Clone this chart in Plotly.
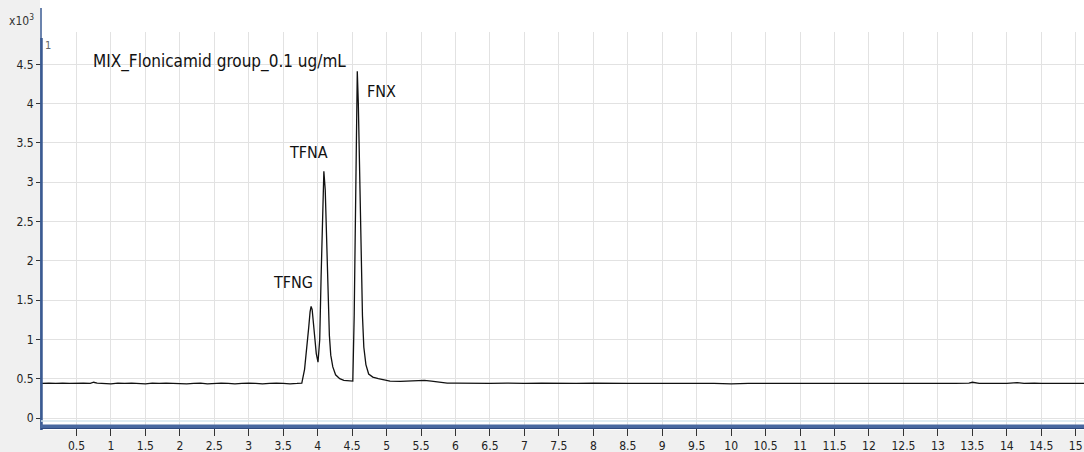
import plotly.graph_objects as go

# Retention time (min) and abundance (x10^3 counts)
time_min = [
    0.00, 0.10, 0.20, 0.30, 0.40, 0.50, 0.60, 0.70, 0.75, 0.80, 0.90, 1.00, 1.10, 1.20,
    1.30, 1.40, 1.50, 1.60, 1.70, 1.80, 1.90, 2.00, 2.10, 2.20, 2.30, 2.40, 2.50, 2.60,
    2.70, 2.80, 2.90, 3.00, 3.10, 3.20, 3.30, 3.40, 3.50, 3.60, 3.70, 3.77,
    3.81, 3.84, 3.87, 3.89, 3.905, 3.92, 3.94, 3.96, 3.98, 4.005,
    4.03, 4.05, 4.07, 4.09, 4.11, 4.13, 4.15, 4.17, 4.19, 4.22, 4.26, 4.32, 4.38, 4.45,
    4.51, 4.53, 4.55, 4.565, 4.575, 4.59, 4.61, 4.63, 4.65, 4.67, 4.70, 4.74, 4.80, 4.88,
    4.95, 5.05, 5.20, 5.35, 5.45, 5.55, 5.65, 5.80, 5.88, 6.00, 6.25, 6.40, 6.50, 6.75,
    7.00, 7.25, 7.50, 7.60, 7.75, 8.00, 8.25, 8.45, 8.50, 8.75, 9.00, 9.05, 9.25, 9.50,
    9.75, 10.00, 10.10, 10.25, 10.50, 10.75, 11.00, 11.25, 11.50, 11.75, 12.00, 12.25,
    12.50, 12.75, 13.00, 13.25, 13.45, 13.50, 13.60, 13.75, 14.00, 14.15, 14.25, 14.40,
    14.50, 14.75, 15.00, 15.12,
]
abundance_k = [
    0.440, 0.445, 0.440, 0.445, 0.440, 0.445, 0.445, 0.440, 0.455, 0.445, 0.440, 0.435, 0.445, 0.440,
    0.445, 0.440, 0.435, 0.445, 0.440, 0.445, 0.440, 0.440, 0.435, 0.440, 0.445, 0.435, 0.440, 0.445,
    0.440, 0.435, 0.440, 0.445, 0.440, 0.435, 0.440, 0.445, 0.440, 0.435, 0.440, 0.445,
    0.620, 0.850, 1.150, 1.350, 1.420, 1.380, 1.200, 0.980, 0.820, 0.710,
    1.000, 1.800, 2.600, 3.140, 2.900, 2.300, 1.600, 1.050, 0.800, 0.650, 0.550, 0.500, 0.480, 0.470,
    0.470, 1.300, 2.700, 3.900, 4.410, 4.000, 3.000, 2.000, 1.300, 0.900, 0.680, 0.560, 0.520, 0.500,
    0.490, 0.470, 0.465, 0.470, 0.475, 0.480, 0.470, 0.455, 0.445, 0.445, 0.440, 0.445, 0.440, 0.445,
    0.440, 0.445, 0.440, 0.445, 0.440, 0.445, 0.440, 0.435, 0.440, 0.440, 0.440, 0.445, 0.440, 0.440,
    0.440, 0.435, 0.440, 0.440, 0.440, 0.440, 0.435, 0.440, 0.435, 0.440, 0.435, 0.440,
    0.440, 0.435, 0.440, 0.440, 0.445, 0.455, 0.440, 0.440, 0.440, 0.450, 0.440, 0.445,
    0.440, 0.440, 0.440, 0.440,
]

peak_names = ["TFNG", "TFNA", "FNX"]
peak_label_x = [3.64, 3.86, 4.93]
peak_label_y = [1.72, 3.38, 4.15]

x_ticks = [0.5 * i for i in range(1, 31)]
x_tick_text = [("%g" % v) for v in x_ticks]
y_ticks = [0.5 * i for i in range(0, 10)]
y_tick_text = [("%g" % v) for v in y_ticks]

title_text = "MIX_Flonicamid group_0.1 ug/mL"

FONT = "DejaVu Sans Condensed, Liberation Sans Narrow, Liberation Sans, Arial, sans-serif"

fig = go.Figure()
fig.add_trace(go.Scatter(x=time_min, y=abundance_k, mode="lines",
                         line=dict(color="#111111", width=1.3), hoverinfo="skip",
                         showlegend=False))

W, H = 1084, 452
ml, mr, mt, mb = 42, 0, 32, 24
pw, ph = W - ml - mr, H - mt - mb

def px_x(p):
    return (p - ml) / pw

def px_y(p):
    return (H - mb - p) / ph

shapes = [
    dict(type="rect", xref="paper", yref="paper", x0=px_x(0), x1=px_x(40), y0=px_y(H), y1=px_y(0),
         fillcolor="#f0f0f0", line=dict(width=0), layer="below"),
    dict(type="rect", xref="paper", yref="paper", x0=px_x(0), x1=px_x(W), y0=px_y(H), y1=px_y(430),
         fillcolor="#f0f0f0", line=dict(width=0), layer="below"),
    dict(type="line", xref="paper", yref="paper", x0=px_x(41), x1=px_x(41), y0=px_y(8), y1=px_y(430),
         line=dict(color="#3a5a92", width=1.5)),
    dict(type="line", xref="paper", yref="paper", x0=px_x(41.5), x1=px_x(41.5), y0=px_y(38), y1=px_y(430),
         line=dict(color="#3a5a92", width=2.5)),
    dict(type="line", xref="paper", yref="paper", x0=px_x(41), x1=px_x(W), y0=px_y(421), y1=px_y(421),
         line=dict(color="#d4e6ee", width=1.5)),
    dict(type="line", xref="paper", yref="paper", x0=px_x(41), x1=px_x(W), y0=px_y(426.5), y1=px_y(426.5),
         line=dict(color="#4868a0", width=4)),
    dict(type="line", xref="paper", yref="paper", x0=px_x(41), x1=px_x(W), y0=px_y(428.5), y1=px_y(428.5),
         line=dict(color="#2e4a80", width=1)),
]

annotations = [
    dict(text=title_text, x=0.73, y=4.53, xref="x", yref="y", xanchor="left", yanchor="middle",
         showarrow=False, borderpad=0, font=dict(family=FONT, size=17, color="#111111")),
    dict(text="x10<sup>3</sup>", x=px_x(8), y=px_y(20), xref="paper", yref="paper",
         xanchor="left", yanchor="middle", showarrow=False, borderpad=0,
         font=dict(family=FONT, size=12, color="#333333")),
    dict(text="1", x=px_x(44), y=px_y(45), xref="paper", yref="paper",
         xanchor="left", yanchor="middle", showarrow=False, borderpad=0,
         font=dict(family=FONT, size=11, color="#666666")),
]
for name, lx, ly in zip(peak_names, peak_label_x, peak_label_y):
    annotations.append(dict(text=name, x=lx, y=ly, xref="x", yref="y", xanchor="center",
                            yanchor="middle", showarrow=False, borderpad=0,
                            font=dict(family=FONT, size=16, color="#111111")))

fig.update_layout(
    width=W, height=H,
    margin=dict(l=ml, r=mr, t=mt, b=mb, pad=0),
    paper_bgcolor="white", plot_bgcolor="white",
    shapes=shapes, annotations=annotations,
    font=dict(family=FONT, size=12, color="#222222"),
    xaxis=dict(range=[0, 15.12], tickvals=x_ticks, ticktext=x_tick_text,
               showgrid=True, gridcolor="#e2e2e2", gridwidth=1, zeroline=False,
               showline=False, ticks="outside", ticklen=7, tickcolor="#333333",
               automargin=False,
               tickfont=dict(family=FONT, size=12, color="#222222")),
    yaxis=dict(range=[-0.127, 4.911], tickvals=y_ticks, ticktext=y_tick_text,
               showgrid=True, gridcolor="#e2e2e2", gridwidth=1, zeroline=False,
               showline=False, ticks="outside", ticklen=5, tickcolor="#333333",
               automargin=False,
               tickfont=dict(family=FONT, size=12, color="#222222")),
)

fig.write_html(
    "out.html",
    config={"displayModeBar": False},
    post_script="document.body.style.margin='0';document.body.style.overflow='hidden';",
)
